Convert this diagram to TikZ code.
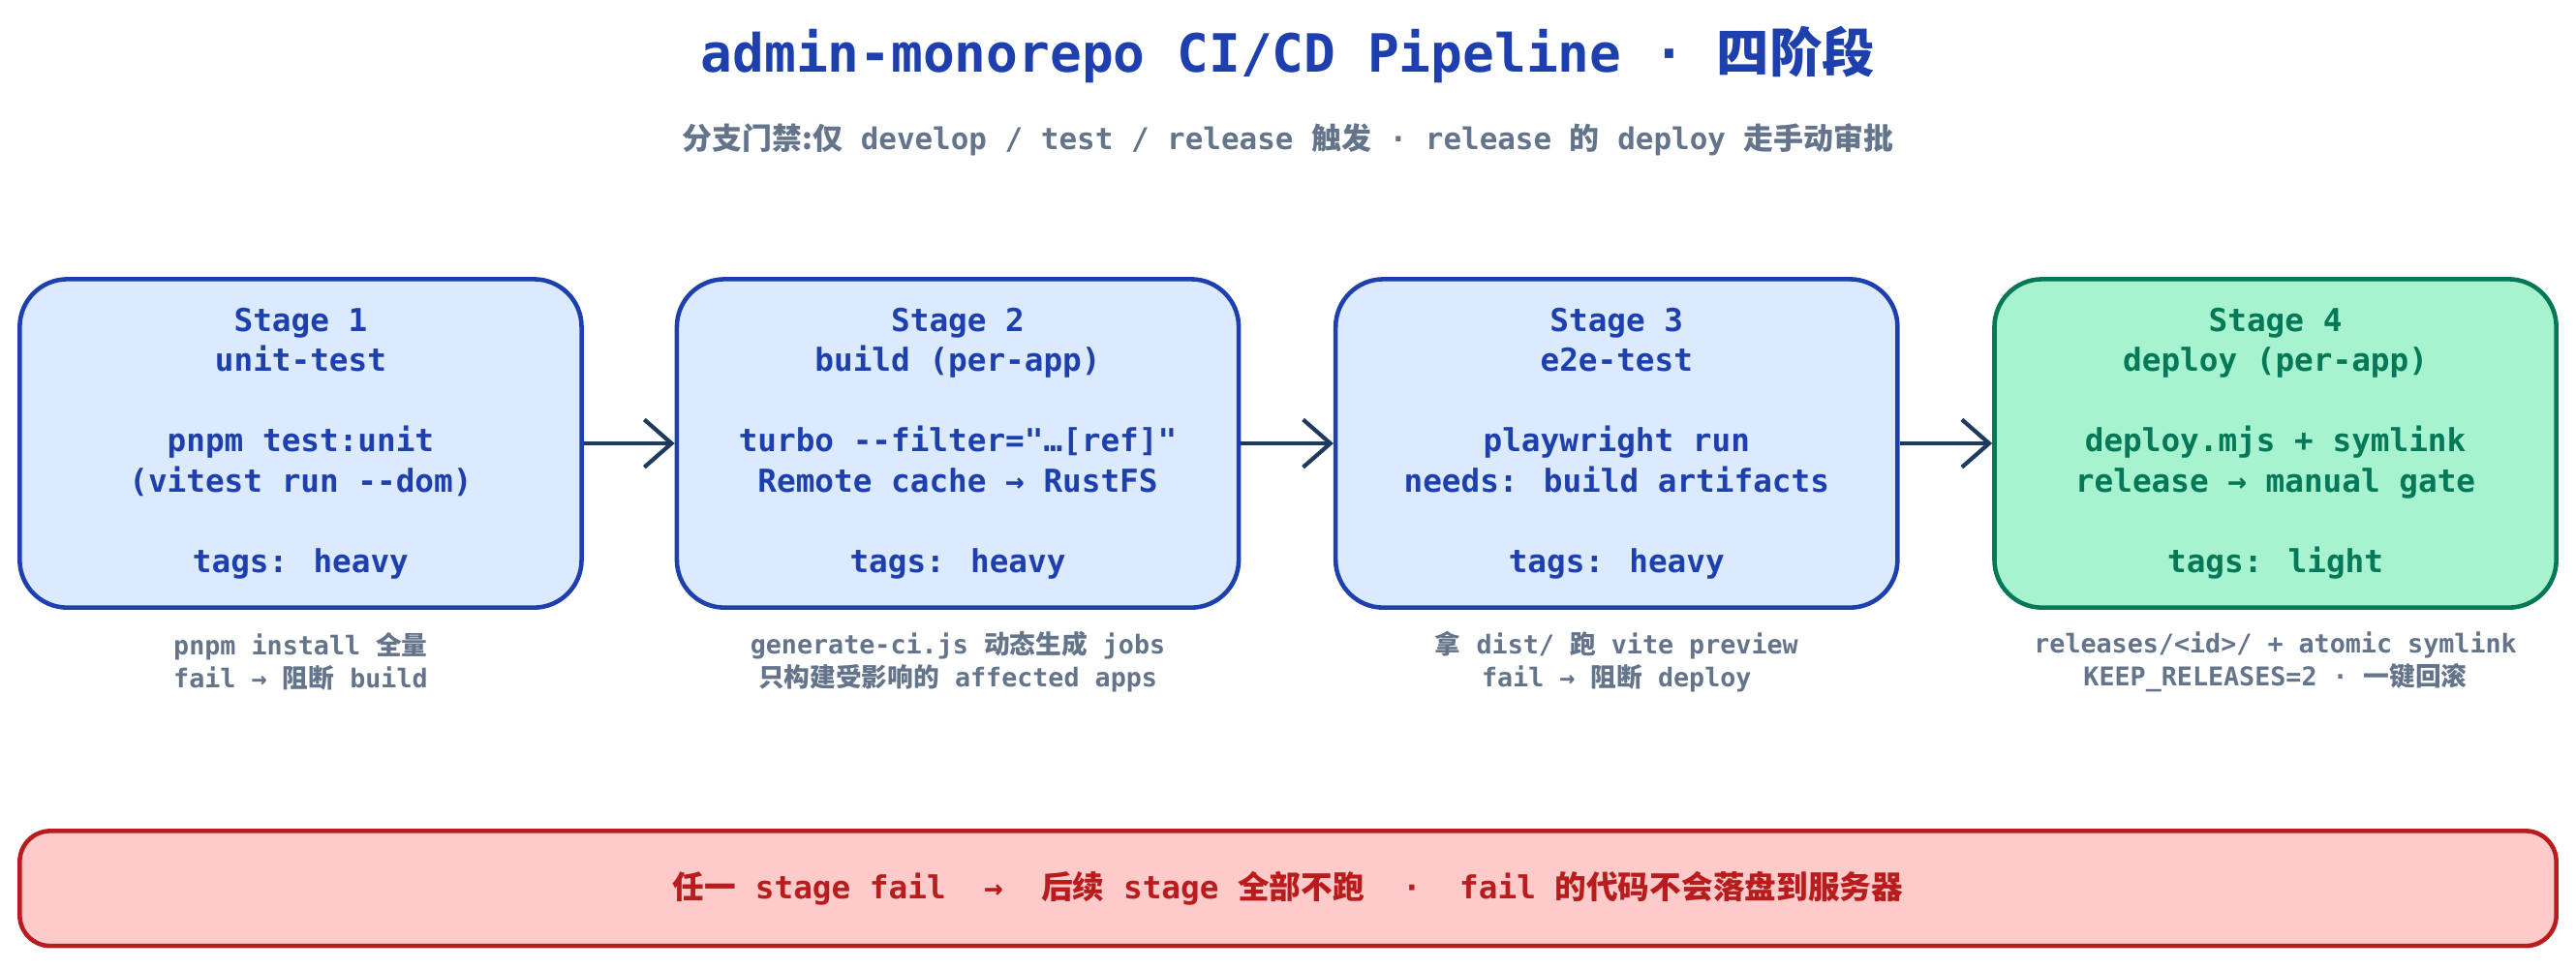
\documentclass[tikz,border=0pt]{standalone}
\usepackage{fontspec}
\setmainfont{DejaVu Sans Mono}[Ligatures=TeXOff]
\newfontfamily\cjk{Noto Sans CJK SC}
\usetikzlibrary{arrows.meta}
\definecolor{bfill}{HTML}{DBEAFE}
\definecolor{bline}{HTML}{1E40AF}
\definecolor{gfill}{HTML}{A7F3D0}
\definecolor{gline}{HTML}{047857}
\definecolor{gtext}{HTML}{047857}
\definecolor{rfill}{HTML}{FECACA}
\definecolor{rline}{HTML}{B91C1C}
\definecolor{capc}{HTML}{64748B}
\definecolor{arr}{HTML}{1E3A5F}
\newcommand{\zh}[1]{{\cjk #1}}
\begin{document}
\begin{tikzpicture}[x=0.016964cm,y=-0.016964cm,
  stage/.style={draw=bline,fill=bfill,line width=1.3pt,rounded corners=14pt,minimum width=342*0.016964cm,minimum height=200*0.016964cm,text=bline,align=center,font=\fontsize{9.3}{11.8}\selectfont\bfseries},
  gstage/.style={stage,draw=gline,fill=gfill,text=gtext},
  capt/.style={text=capc,align=center,font=\fontsize{7.6}{9.6}\selectfont\bfseries},
  flow/.style={draw=arr,line width=1.2pt,-{Straight Barb[length=8pt,width=14pt,line width=1.2pt]}}]
\useasboundingbox (0,0) rectangle (1568,589.5);
\node[text=bline,font=\fontsize{15.5}{18}\selectfont\bfseries] (title) at (784,33) {admin-monorepo CI/CD Pipeline · \zh{四阶段}};
\node[text=capc,font=\fontsize{8.8}{11}\selectfont\bfseries] (sub) at (784,85) {\zh{分支门禁:仅} develop / test / release \zh{触发} · release \zh{的} deploy \zh{走手动审批}};
\node[stage] (s1) at (183,270) {Stage 1\\unit-test\\[11.8pt]pnpm test:unit\\(vitest run --dom)\\[11.8pt]tags: heavy};
\node[stage] (s2) at (583,270) {Stage 2\\build (per-app)\\[11.8pt]turbo --filter="…[ref]"\\Remote cache → RustFS\\[11.8pt]tags: heavy};
\node[stage] (s3) at (984,270) {Stage 3\\e2e-test\\[11.8pt]playwright run\\needs: build artifacts\\[11.8pt]tags: heavy};
\node[gstage] (s4) at (1385,270) {Stage 4\\deploy (per-app)\\[11.8pt]deploy.mjs + symlink\\release → manual gate\\[11.8pt]tags: light};
\draw[flow] (s1) -- (s2);
\draw[flow] (s2) -- (s3);
\draw[flow] (s3) -- (s4);
\node[capt] (c1) at (183,403) {pnpm install \zh{全量}\\fail → \zh{阻断} build};
\node[capt] (c2) at (583,403) {generate-ci.js \zh{动态生成} jobs\\\zh{只构建受影响的} affected apps};
\node[capt] (c3) at (984,403) {\zh{拿} dist/ \zh{跑} vite preview\\fail → \zh{阻断} deploy};
\node[capt] (c4) at (1385,403) {releases/<id>/ + atomic symlink\\KEEP\_RELEASES=2 · \zh{一键回滚}};
\node[draw=rline,fill=rfill,line width=1.3pt,rounded corners=9pt,minimum width=1544*0.016964cm,minimum height=70*0.016964cm,text=rline,font=\fontsize{9.3}{11}\selectfont\bfseries] (bar) at (784,541) {\zh{任一} stage fail\ \ →\ \ \zh{后续} stage \zh{全部不跑}\ \ ·\ \ fail \zh{的代码不会落盘到服务器}};
\end{tikzpicture}
\end{document}
